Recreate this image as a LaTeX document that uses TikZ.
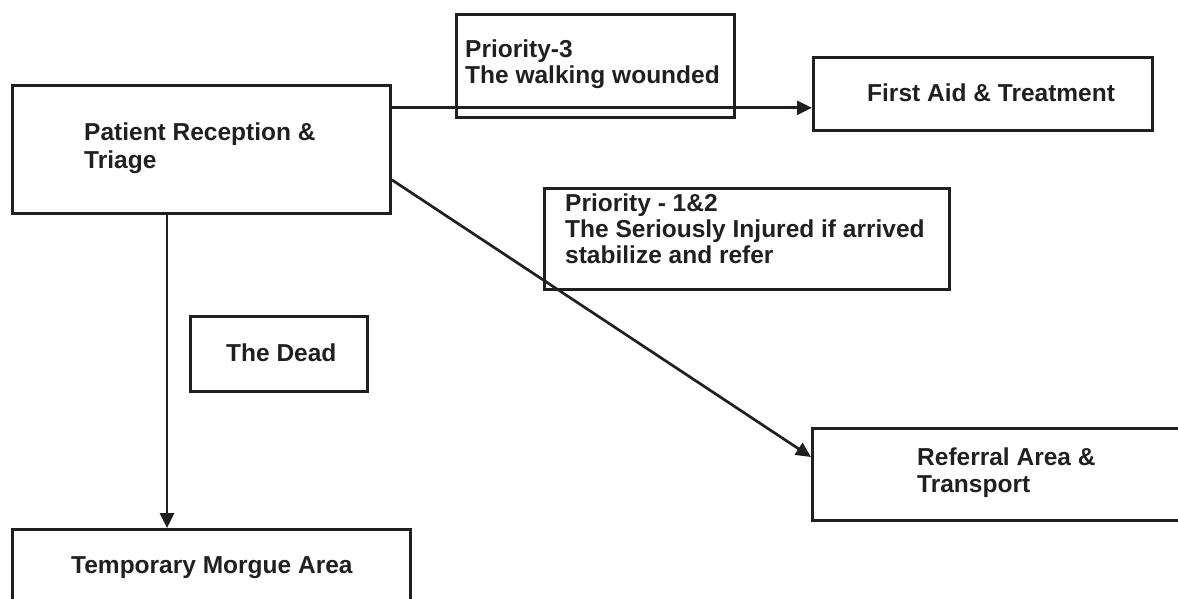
\documentclass[tikz,border=0pt]{standalone}
\usepackage{fontspec}
\setmainfont{Liberation Sans}
\usetikzlibrary{arrows.meta,calc}
\definecolor{ink}{RGB}{35,31,32}
\begin{document}
\begin{tikzpicture}[x=1pt,y=-1pt,
  box/.style={draw=ink,line width=2.8pt,rectangle,inner sep=0pt,anchor=north west},
  txt/.style={anchor=base west,inner sep=0pt,align=left,text=ink,font=\bfseries\fontsize{24.5}{26}\selectfont},
  arr/.style={draw=ink,line width=2.7pt,-{Triangle[length=15pt,width=14pt]}}]
\useasboundingbox (0,0) rectangle (1178,598);
\clip (0,0) rectangle (1178,598);
% boxes
\node[box,minimum width=378pt,minimum height=128pt] (patient) at (11,84) {};
\node[box,minimum width=278pt,minimum height=103pt] (p3) at (455,13) {};
\node[box,minimum width=339pt,minimum height=73pt] (fa) at (812,56) {};
\node[box,minimum width=405pt,minimum height=101pt] (p12) at (543,187) {};
\node[box,minimum width=177pt,minimum height=75pt] (dead) at (189,315) {};
\node[box,minimum width=390pt,minimum height=92pt] (ref) at (811,427) {};
\node[box,minimum width=398pt,minimum height=100pt] (morgue) at (11,528) {};
% texts (multi-line: base = last line's baseline)
\node[txt,font=\bfseries\fontsize{24.5}{28}\selectfont] (patient-t) at (84,168) {Patient Reception \&\\Triage};
\node[txt] (p3-t) at (465,83) {Priority-3\\The walking wounded};
\node[txt] (fa-t) at (867,101) {First Aid \& Treatment};
\node[txt] (p12-t) at (565,263) {Priority - 1\&2\\The Seriously Injured if arrived\\stabilize and refer};
\node[txt] (dead-t) at (226,361) {The Dead};
\node[txt,font=\bfseries\fontsize{24.5}{27}\selectfont] (ref-t) at (917,492) {Referral Area \&\\Transport};
\node[txt] (morgue-t) at (71,573) {Temporary Morgue Area};
% connectors
\coordinate (dx) at (167,0);
\coordinate (faIn) at ($(fa.south west)+(0,-24)$);
\draw[arr] (patient.east |- faIn) -- (faIn);
\draw[arr] ($(patient.south east)+(0,-35)$) -- ($(ref.north west)+(0,30)$);
\draw[arr] (patient.south -| dx) -- (morgue.north -| dx);
\end{tikzpicture}
\end{document}
